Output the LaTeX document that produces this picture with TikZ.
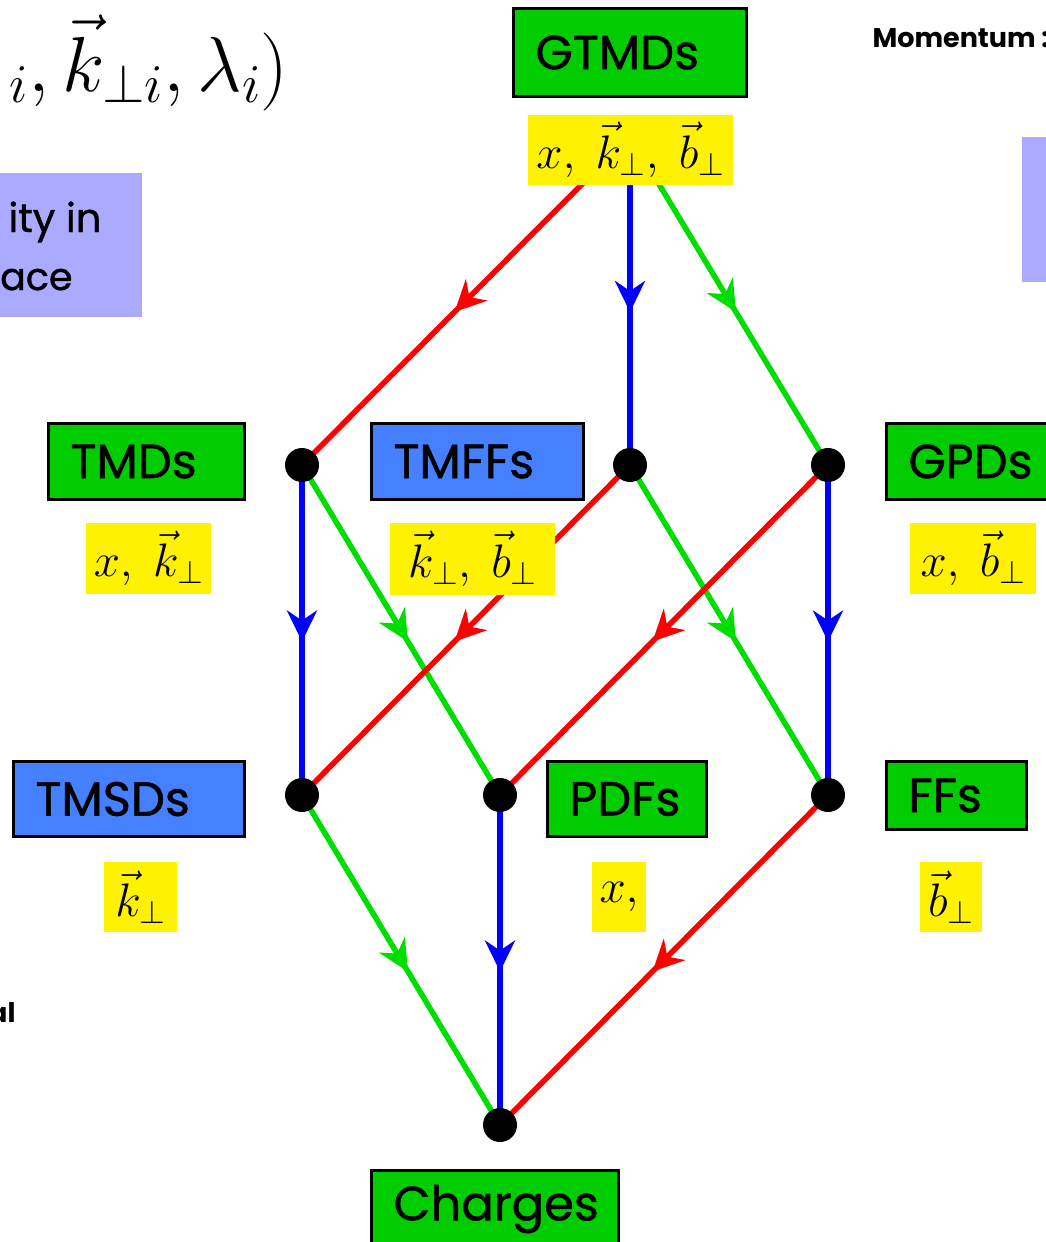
\RequirePackage{fix-cm}
\documentclass[tikz,border=0pt]{standalone}
\usepackage{amsmath}
\usepackage{fontspec}
\setmainfont{Poppins}
\usetikzlibrary{positioning}
\usetikzlibrary{arrows.meta}
\usetikzlibrary{decorations.markings}

\definecolor{boxgreen}{RGB}{0,204,0}
\definecolor{boxblue}{RGB}{68,128,255}
\definecolor{linegreen}{RGB}{0,221,0}
\definecolor{lilac}{RGB}{170,170,255}

\begin{document}
\begin{tikzpicture}[x=1pt, y=-1pt,
  box/.style={draw, line width=3pt, fill=boxgreen, align=left, inner xsep=22pt, inner ysep=0pt,
    font=\fontsize{48}{56}\selectfont\addfontfeature{FakeBold=1}},
  bluebox/.style={box, fill=boxblue},
  var/.style={fill=yellow, inner sep=0pt, font=\fontsize{47}{54}\selectfont},
  flow/.style={line width=5.5pt, postaction={decorate}, decoration={markings,
    mark=at position 0.535 with {\arrow{Stealth[length=31pt, width=30pt, inset=10pt]}}}}]
  \useasboundingbox (0,0) rectangle (1046,1242);
  \clip (0,0) rectangle (1046,1242);

  % side notes
  \fill[lilac] (0,173) rectangle (142,317);
  \fill[lilac] (1022,137) rectangle (1060,282);
  \node[anchor=base east, font=\fontsize{40}{48}\selectfont\addfontfeature{FakeBold=1}] (dens) at (105,232) {ity in};
  \node[anchor=base west, inner xsep=0pt, font=\fontsize{38}{46}\selectfont\addfontfeature{FakeBold=1}] (space) at (0,290) {ace};
  \node[anchor=base west, font=\fontsize{27}{32}\selectfont\bfseries] (mom) at (869,47) {Momentum :};
  \node[anchor=base east, font=\fontsize{27}{32}\selectfont\bfseries] (al) at (19,1022) {al};
  \node[anchor=base east, font=\fontsize{78}{90}\selectfont] (vars) at (292,91)
    {${}_i, \vec{k}_{\perp i}, \lambda_i)$};

  % vertices
  \coordinate (gtmdpt) at (630,136);
  \coordinate (tmdpt) at (302,465);
  \coordinate (tmffpt) at (630,465);
  \coordinate (gpdpt) at (828,465);
  \coordinate (tmsdpt) at (302,795);
  \coordinate (pdfpt) at (500,795);
  \coordinate (ffpt) at (828,795);
  \coordinate (chpt) at (500,1125);

  % reductions
  \draw[flow, red] (gtmdpt) -- (tmdpt);
  \draw[flow, blue] (gtmdpt) -- (tmffpt);
  \draw[flow, linegreen] (gtmdpt) -- (gpdpt);
  \draw[flow, blue] (tmdpt) -- (tmsdpt);
  \draw[flow, linegreen] (tmdpt) -- (pdfpt);
  \draw[flow, red] (tmffpt) -- (tmsdpt);
  \draw[flow, linegreen] (tmffpt) -- (ffpt);
  \draw[flow, red] (gpdpt) -- (pdfpt);
  \draw[flow, blue] (gpdpt) -- (ffpt);
  \draw[flow, linegreen] (tmsdpt) -- (chpt);
  \draw[flow, blue] (pdfpt) -- (chpt);
  \draw[flow, red] (ffpt) -- (chpt);
  \foreach \p in {tmdpt, tmffpt, gpdpt, tmsdpt, pdfpt, ffpt, chpt}
    \fill (\p) circle (17pt);

  % distributions
  \node[box, text width=189pt, minimum height=88pt] (gtmd) at (630,52.5) {GTMDs};
  \node[box, text width=152pt, minimum height=76pt] (tmd) at (146.5,461.5) {TMDs};
  \node[bluebox, text width=168pt, minimum height=76pt] (tmff) at (477.5,461.5) {TMFFs};
  \node[box, text width=123pt, minimum height=76pt] (gpd) at (970,461.5) {GPDs};
  \node[bluebox, text width=187pt, minimum height=75pt] (tmsd) at (129,799) {TMSDs};
  \node[box, text width=115pt, minimum height=75pt] (pdf) at (627,799) {PDFs};
  \node[box, text width=96pt, minimum height=68pt] (ff) at (956.5,795.5) {FFs};
  \node[box, text width=203pt, minimum height=77pt] (charge) at (495,1209) {Charges};

  % their variables
  \node[var, minimum width=205pt, minimum height=70pt] (gtmdvar) at (630.5,150)
    {$x,\ \vec{k}_\perp,\ \vec{b}_\perp$};
  \node[var, minimum width=125pt, minimum height=71pt] (tmdvar) at (148.5,558.5) {$x,\ \vec{k}_\perp$};
  \node[var, minimum width=165pt, minimum height=72pt] (tmffvar) at (472.5,559) {$\vec{k}_\perp,\ \vec{b}_\perp$};
  \node[var, minimum width=126pt, minimum height=71pt] (gpdvar) at (973,558.5) {$x,\ \vec{b}_\perp$};
  \node[var, minimum width=73pt, minimum height=70pt] (tmsdvar) at (140.5,897) {$\vec{k}_\perp$};
  \node[var, minimum width=54pt, minimum height=70pt] (pdfvar) at (619,897) {$x,$};
  \node[var, minimum width=62pt, minimum height=70pt] (ffvar) at (951,897) {$\vec{b}_\perp$};
\end{tikzpicture}
\end{document}
